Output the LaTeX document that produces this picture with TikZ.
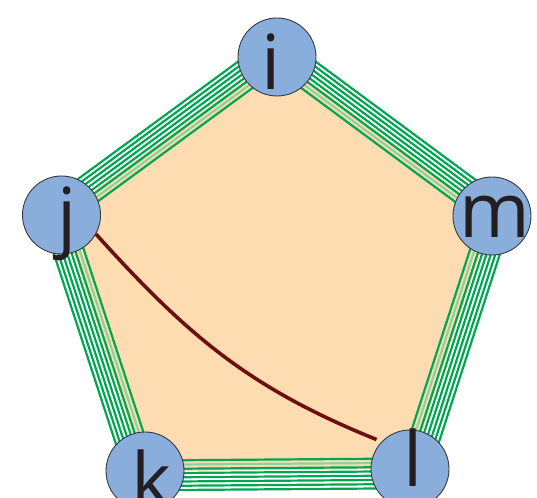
\documentclass[tikz,border=0pt]{standalone}
\usepackage{fontspec}
\setmainfont{Open Sans}
\usetikzlibrary{calc}
\definecolor{peach}{RGB}{252,220,176}
\definecolor{bandgreen}{RGB}{0,166,81}
\definecolor{bandlight}{RGB}{140,210,160}
\definecolor{vblue}{RGB}{138,174,220}
\definecolor{vborder}{RGB}{55,55,65}
\definecolor{chordred}{RGB}{110,15,15}
\definecolor{lettercol}{RGB}{35,31,32}
\begin{document}
\begin{tikzpicture}[x=1pt,y=1pt,
  vtx/.style={circle,draw=vborder,fill=vblue,line width=0.9pt,minimum size=78pt,inner sep=0pt},
  lbl/.style={anchor=base,inner sep=0pt,font=\fontsize{76}{76}\selectfont,text=lettercol},
  bandline/.style={draw=bandgreen,line width=2.2pt},
  bandfaint/.style={draw=bandlight,line width=2.2pt},
  chord/.style={draw=chordred,line width=3.6pt}]
\useasboundingbox (0,0) rectangle (537,497);
\coordinate (ci) at (277,440);
\coordinate (cj) at (61.5,282);
\coordinate (ck) at (145,26);
\coordinate (cl) at (410,28);
\coordinate (cm) at (492,281);
\fill[peach] (ci) -- (cj) -- (ck) -- (cl) -- (cm) -- cycle;
\foreach \a/\b in {ci/cj,cj/ck,ck/cl,cl/cm,cm/ci}{
  \foreach \d [count=\n] in {-10.5,-6.25,-2,2.25,6.5,10.75,15,19.25}{
    \ifnum\n=2
      \draw[bandfaint] ($(\a)!\d pt!-90:(\b)$) -- ($(\b)!\d pt!90:(\a)$);
    \else
      \draw[bandline] ($(\a)!\d pt!-90:(\b)$) -- ($(\b)!\d pt!90:(\a)$);
    \fi
  }
}
\node[vtx] (i) at (ci) {};
\node[vtx] (j) at (cj) {};
\node[vtx] (k) at (ck) {};
\node[vtx] (l) at (cl) {};
\node[vtx] (m) at (cm) {};
\node[lbl] (ti) at (271.5,407) {i};
\node[lbl] (tj) at (67,254) {j};
\node[lbl] (tm) at (494.5,259) {m};
\node[lbl] (tk) at (151.5,-10) {k};
\node[lbl] (tl) at (413.5,10) {l};
\draw[chord,shorten >=5.5pt] (j.-29) .. controls +(-48:140pt) and +(158:140pt) .. (l.136);
\end{tikzpicture}
\end{document}
